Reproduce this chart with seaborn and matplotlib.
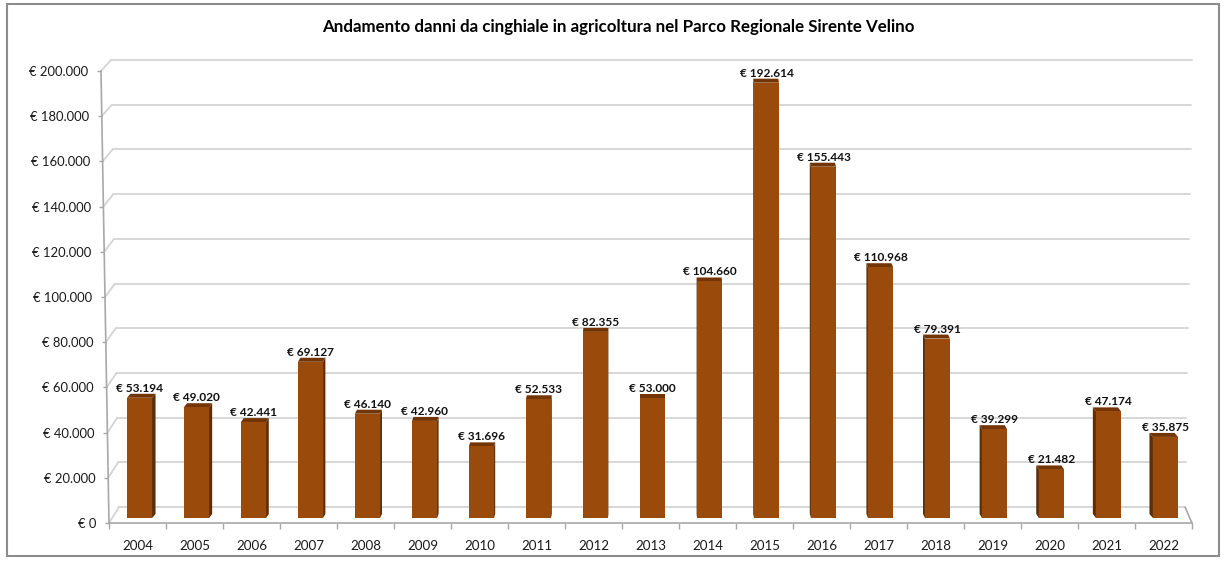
import matplotlib
matplotlib.use("Agg")
import matplotlib.pyplot as plt
import pandas as pd
import seaborn as sns
from matplotlib.lines import Line2D
from matplotlib.patches import Polygon, Rectangle
from matplotlib.transforms import IdentityTransform, ScaledTranslation

# --- data ---------------------------------------------------------------
years = ["2004", "2005", "2006", "2007", "2008", "2009", "2010", "2011", "2012", "2013",
         "2014", "2015", "2016", "2017", "2018", "2019", "2020", "2021", "2022"]
damages = [53194, 49020, 42441, 69127, 46140, 42960, 31696, 52533, 82355, 53000,
           104660, 192614, 155443, 110968, 79391, 39299, 21482, 47174, 35875]
y_ticks = [0, 20000, 40000, 60000, 80000, 100000, 120000, 140000, 160000, 180000, 200000]
title = "Andamento danni da cinghiale in agricoltura nel Parco Regionale Sirente Velino"


def euro(v):
    return "€ " + f"{v:,}".replace(",", ".")


# --- style ----------------------------------------------------------------
sns.set_theme(style="white")
plt.rcParams["font.family"] = ["Lato", "DejaVu Sans"]

FRONT = "#9A4A0B"
TOP = "#733506"
SIDE = "#5E2D05"
GRID = "#D4D4D4"
AXIS = "#A8A8A8"

W, H, DPI = 1227, 563, 100
fig = plt.figure(figsize=(W / DPI, H / DPI), dpi=DPI)
fig.patch.set_facecolor("white")

left_px, right_px, base_px, top_px = 109, 1192, 523, 71
ax = fig.add_axes([left_px / W, (H - base_px) / H,
                   (right_px - left_px) / W, (base_px - top_px) / H])
ymax = y_ticks[-1]
n = len(years)

df = pd.DataFrame({"anno": years, "danni": damages})
sns.barplot(data=df, x="anno", y="danni", color=FRONT, saturation=1,
            width=0.44, linewidth=0, ax=ax, zorder=3)
ax.set_xlim(-0.5, n - 0.5)
ax.set_ylim(0, ymax)
ax.set_xlabel("")
ax.set_ylabel("")
ax.patch.set_alpha(0)


def shift(dx, dy):
    """Offset in pixels (display y up)."""
    return ScaledTranslation(dx / DPI, dy / DPI, fig.dpi_scale_trans)


# columns sit a little behind the front plane
bar_dx, bar_dy = 2, 5
for p in ax.patches:
    p.set_transform(ax.transData + shift(bar_dx, bar_dy))
    p.set_clip_on(False)

px = ax.transData.transform
ident = IdentityTransform()


def slant(v):
    return -8 * v / ymax


# back wall gridlines and left-wall diagonals
for v in y_ticks:
    fx, fy = px((-0.5, v))
    fx += slant(v)
    bx, by = fx + 10, fy + 16 - 5 * v / ymax
    rx = px((n - 0.5, v))[0] - 7 * (1 - v / ymax)
    ax.add_line(Line2D([bx, rx], [by, by], transform=ident, color=GRID,
                       lw=1.3, zorder=0.5, clip_on=False))
    ax.add_line(Line2D([fx, bx], [fy, by], transform=ident, color=GRID,
                       lw=1.3, zorder=0.5, clip_on=False))

# floor: right edge
fx, fy = px((n - 0.5, 0))
ax.add_line(Line2D([fx, fx - 7], [fy, fy + 16], transform=ident, color=AXIS,
                   lw=1.2, zorder=0.6, clip_on=False))

# front vertical axis (slightly slanted)
x0, y0 = px((-0.5, 0))
x1, y1 = px((-0.5, ymax))
ax.add_line(Line2D([x0, x1 + slant(ymax)], [y0, y1], transform=ident,
                   color=AXIS, lw=1.2, zorder=0.6, clip_on=False))

# column side and top faces
for i, p in enumerate(ax.patches):
    bb = p.get_window_extent()
    xa, xb, ya, yb = bb.x0, bb.x1, bb.y0, bb.y1
    sx = 3.5 * (9 - i) / 9
    top = Polygon([(xa, yb), (xb, yb), (xb + sx, yb + 4), (xa + sx, yb + 4)],
                  closed=True, transform=ident, facecolor=TOP, edgecolor="none",
                  zorder=2.5, clip_on=False)
    ax.add_patch(top)
    edge = xb if sx >= 0 else xa
    side = Polygon([(edge, ya), (edge, yb), (edge + sx, yb + 4), (edge + sx, ya + 4)],
                   closed=True, transform=ident, facecolor=SIDE, edgecolor="none",
                   zorder=2.5, clip_on=False)
    ax.add_patch(side)

# value labels
for i, v in enumerate(damages):
    ax.text(i, v, euro(v), transform=ax.transData + shift(bar_dx, 11),
            ha="center", va="baseline", fontsize=8.6, fontweight="bold",
            color="#111111", zorder=5, clip_on=False)

# spines
for s in ["top", "right", "left"]:
    ax.spines[s].set_visible(False)
ax.spines["bottom"].set_color(AXIS)
ax.spines["bottom"].set_linewidth(1.2)

# y ticks follow the slanted front axis
ax.set_yticks(y_ticks)
ax.set_yticklabels([euro(v) for v in y_ticks])
ax.tick_params(axis="y", left=True, length=3, width=1, color=AXIS, pad=6,
               labelsize=9.4, labelcolor="#1a1a1a")
for tick, v in zip(ax.yaxis.get_major_ticks(), y_ticks):
    off = shift(slant(v), 0)
    tick.tick1line.set_transform(tick.tick1line.get_transform() + off)
    tick.label1.set_transform(tick.label1.get_transform() + off)

# x ticks: labels at column centres, marks at boundaries
ax.set_xticks(range(n))
ax.set_xticklabels(years)
ax.set_xticks([i - 0.5 for i in range(n + 1)], minor=True)
ax.tick_params(axis="x", which="major", bottom=False, length=0, pad=12,
               labelsize=9.6, labelcolor="#1a1a1a")
ax.tick_params(axis="x", which="minor", bottom=True, length=4, width=1, color=AXIS)

fig.text(618.5 / W, 1 - 27 / H, title, ha="center", va="center",
         fontsize=12.2, fontweight="bold", color="#000000")

# chart border (display coords, origin bottom-left)
fig.patches.append(Rectangle((7, H - 556), 1212, 552, transform=ident, fill=False,
                             edgecolor="#8C8C8C", lw=1.5, zorder=10,
                             figure=fig))

fig.savefig("out.png", dpi=DPI)
